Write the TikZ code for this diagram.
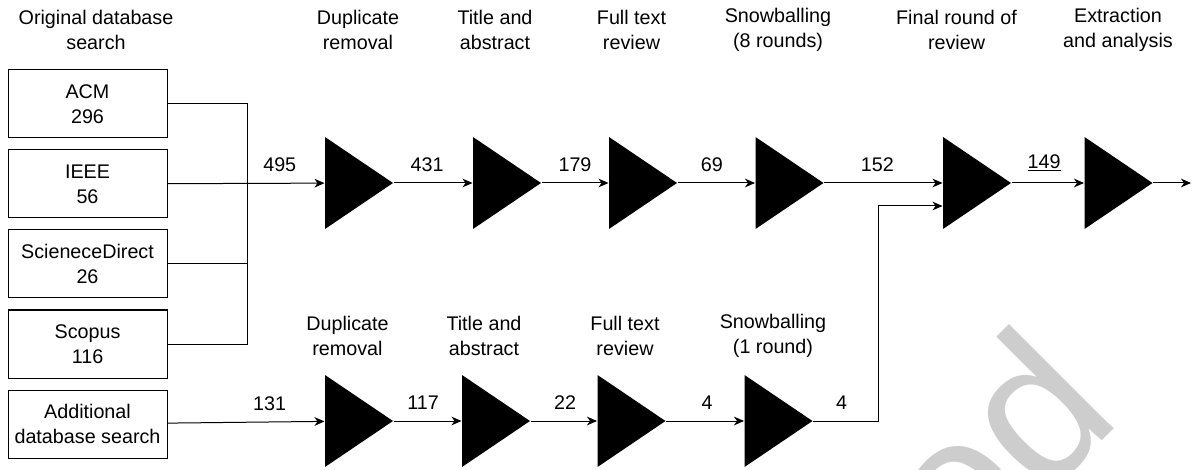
\documentclass[tikz,border=0pt]{standalone}
\usepackage{fontspec}
\setmainfont{Liberation Sans}
\usetikzlibrary{positioning,arrows.meta}
\tikzset{>={Stealth[length=7.5pt,width=6.5pt,inset=2.25pt]}}
\definecolor{stampgray}{RGB}{205,205,205}

\begin{document}
\begin{tikzpicture}[
    x=0.75pt, y=-0.75pt,
    line width=0.75pt,
    node distance=8.25pt,
    every node/.style={align=center, font=\fontsize{14.8}{18.75}\selectfont},
    source/.style={draw, rectangle, minimum width=119.25pt, minimum height=51pt, inner sep=0pt},
    stage/.style={minimum width=51pt, minimum height=69pt, inner sep=0pt,
        path picture={\fill (path picture bounding box.north west) -- (path picture bounding box.east)
            -- (path picture bounding box.south west) -- cycle;}},
    count/.style={above=6.25pt, inner sep=2pt}
]
    \useasboundingbox (0,0) rectangle (1192,470);

    % Stamp in the corner
    \begin{scope}
        \clip (0,0) rectangle (1192,470);
        \node[text=stampgray, rotate=45, anchor=base east, font=\fontsize{153}{153}\selectfont] (Stamp) at (1127,416) {ed};
    \end{scope}

    % Sources
    \node[source] (ACM) at (87.5,104) {ACM\\296};
    \node[source, below=of ACM] (IEEE) {IEEE\\56};
    \node[source, below=of IEEE] (Direct) {ScieneceDirect\\26};
    \node[source, below=of Direct] (Scopus) {Scopus\\116};
    \node[source, below=of Scopus] (Additional) {Additional\\database search};
    \coordinate (Merge) at (247,183);

    % Stages
    \node[stage] (Dedup) at (359,183) {};
    \node[stage] (Screen) at (507,183) {};
    \node[stage] (FullText) at (643,183) {};
    \node[stage] (Snowball) at (789.5,183) {};
    \node[stage] (Final) at (977,183) {};
    \node[stage] (Extract) at (1118.5,183) {};
    \coordinate (Exit) at (1191,183);

    \node[stage] (Dedup2) at (359,421) {};
    \node[stage] (Screen2) at (496,421) {};
    \node[stage] (FullText2) at (631.5,421) {};
    \node[stage] (Snowball2) at (778.5,421) {};
    \coordinate (Bend) at (878,206);

    % Titles
    \node (TitleSource) at (96,29.5) {Original database\\search};
    \node (TitleDedup) at (358,29.5) {Duplicate\\removal};
    \node (TitleScreen) at (495,29.5) {Title and\\abstract};
    \node (TitleFull) at (631.5,29.5) {Full text\\review};
    \node (TitleSnow) at (778,29.5) {Snowballing\\(8 rounds)};
    \node (TitleFinal) at (956.5,29.5) {Final round of\\review};
    \node (TitleExtract) at (1118,29.5) {Extraction\\and analysis};

    \node (TitleDedup2) at (347.5,335.5) {Duplicate\\removal};
    \node (TitleScreen2) at (484,335.5) {Title and\\abstract};
    \node (TitleFull2) at (625,335.5) {Full text\\review};
    \node (TitleSnow2) at (773,335.5) {Snowballing\\(1 round)};

    % Arrows
    \draw (ACM) -| (Merge);
    \draw (Direct) -| (Merge);
    \draw (Scopus) -| (Merge);
    \draw[->] (IEEE) -- node[count, pos=.715] {495} (Dedup);
    \draw[->] (Dedup) -- node[count, pos=.425] {431} (Screen);
    \draw[->] (Screen) -- node[count] {179} (FullText);
    \draw[->] (FullText) -- node[count, pos=.443] {69} (Snowball);
    \draw[->] (Snowball) -- node[count, pos=.45] {152} (Final);
    \draw[->] (Final) -- node[count, pos=.45] {\underline{149}} (Extract);
    \draw[->] (Extract) -- (Exit);

    \draw[->] (Additional) -- node[count, pos=.65] {131} (Dedup2);
    \draw[->] (Dedup2) -- node[count, pos=.435] {117} (Screen2);
    \draw[->] (Screen2) -- node[count, pos=.52] {22} (FullText2);
    \draw[->] (FullText2) -- node[count, pos=.526] {4} (Snowball2);
    \draw[->] (Snowball2) -| node[count, pos=.22] {4} (Bend) -- ([yshift=-17.25pt]Final.west);
\end{tikzpicture}
\end{document}
